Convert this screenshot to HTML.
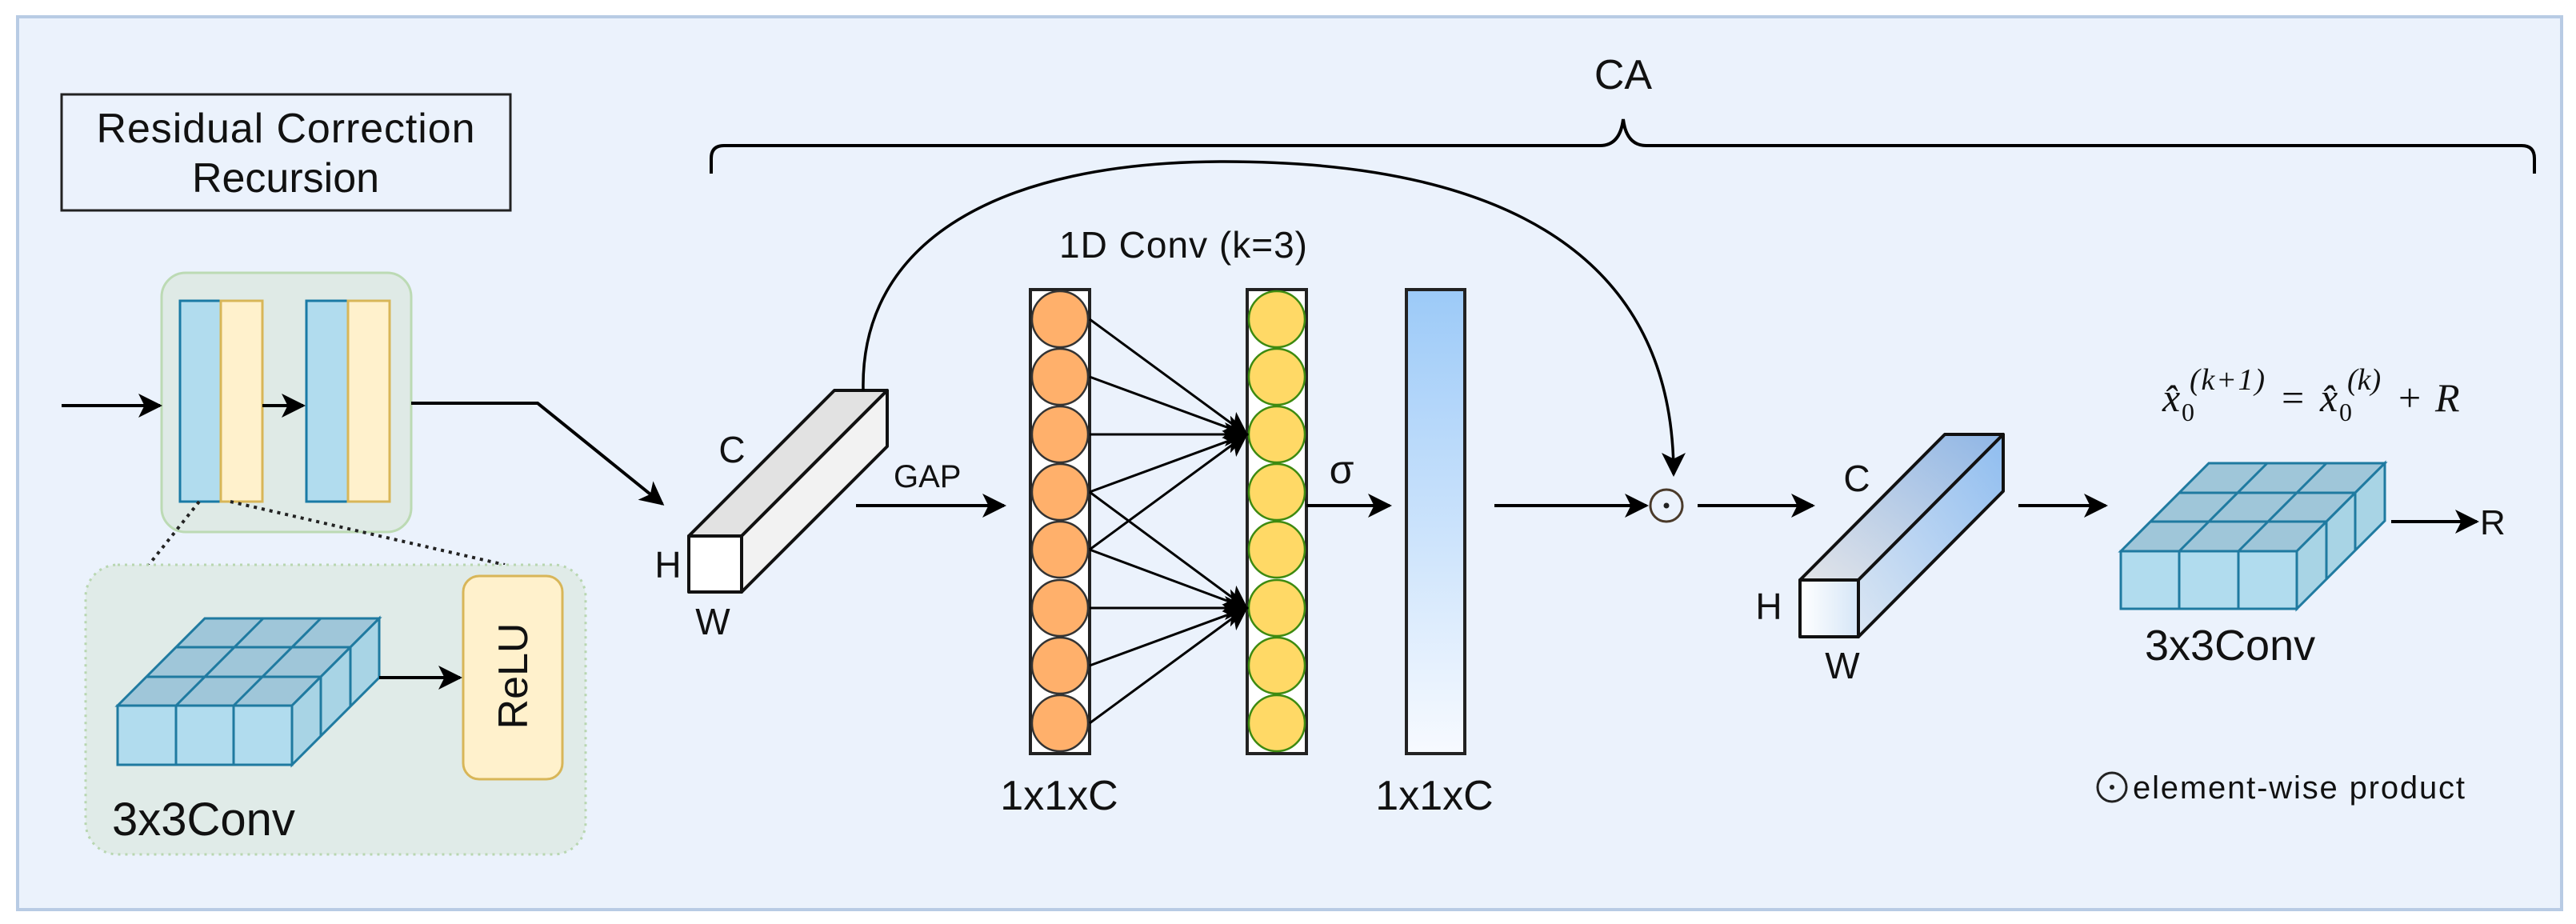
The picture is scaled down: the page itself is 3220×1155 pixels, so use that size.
<!DOCTYPE html>
<html><head><meta charset="utf-8"><style>
html,body{margin:0;padding:0;background:#fff;}
svg{display:block;}
text{font-family:"Liberation Sans",sans-serif;fill:#111;}
.s{font-family:"Liberation Serif",serif;}
</style></head><body>
<svg width="3220" height="1155" viewBox="0 0 3220 1155" xmlns="http://www.w3.org/2000/svg">
<defs>
<marker id="ar2" viewBox="0 0 20 20" refX="18" refY="10" markerWidth="30" markerHeight="30" markerUnits="userSpaceOnUse" orient="auto">
<path d="M0,0 L20,10 L0,20 L5,10 Z" fill="#000"/></marker>
<linearGradient id="blueBar" x1="0" y1="0" x2="0" y2="1"><stop offset="0" stop-color="#9ccaf8"/><stop offset="1" stop-color="#f7faff"/></linearGradient>
<linearGradient id="c2top" x1="0" y1="1" x2="1" y2="0"><stop offset="0" stop-color="#e2e4e8"/><stop offset="1" stop-color="#8fb6e6"/></linearGradient>
<linearGradient id="c2side" x1="0" y1="1" x2="1" y2="0"><stop offset="0" stop-color="#dbe6f3"/><stop offset="1" stop-color="#8fbdf0"/></linearGradient>
<linearGradient id="c2front" x1="0" y1="0" x2="1" y2="0"><stop offset="0" stop-color="#ffffff"/><stop offset="1" stop-color="#d6e6f7"/></linearGradient>
</defs>
<rect x="22" y="21" width="3180" height="1116" fill="#ebf2fc" stroke="#b8cbe4" stroke-width="4"/>

<!-- title -->
<rect x="77" y="118" width="561" height="145" fill="none" stroke="#222" stroke-width="3"/>
<text x="357" y="178" font-size="52" text-anchor="middle" textLength="473">Residual Correction</text>
<text x="357" y="240" font-size="52" text-anchor="middle">Recursion</text>

<!-- CA brace -->
<text x="2029" y="111" font-size="52" text-anchor="middle">CA</text>
<path d="M889,217 L889,198 Q889,182 905,182 L2000,182 Q2025,182 2029,149 Q2033,182 2058,182 L3152,182 Q3168,182 3168,198 L3168,217" fill="none" stroke="#000" stroke-width="4"/>

<!-- green block -->
<rect x="202" y="341" width="312" height="324" rx="30" fill="#dfeae6" stroke="#bcdab4" stroke-width="3"/>
<rect x="225" y="376" width="51" height="251" fill="#b1dcee" stroke="#1a7aa5" stroke-width="3"/>
<rect x="276" y="376" width="52" height="251" fill="#fff1cc" stroke="#d8b658" stroke-width="3"/>
<rect x="383" y="376" width="52" height="251" fill="#b1dcee" stroke="#1a7aa5" stroke-width="3"/>
<rect x="435" y="376" width="52" height="251" fill="#fff1cc" stroke="#d8b658" stroke-width="3"/>
<line x1="77" y1="507" x2="200" y2="507" stroke="#000" stroke-width="4" marker-end="url(#ar2)"/>
<line x1="328" y1="507" x2="379" y2="507" stroke="#000" stroke-width="4" marker-end="url(#ar2)"/>
<polyline points="514,504 672,504 828,630" fill="none" stroke="#000" stroke-width="4" marker-end="url(#ar2)"/>
<line x1="249" y1="627" x2="186" y2="706" stroke="#222" stroke-width="4" stroke-dasharray="4,6"/>
<line x1="288" y1="627" x2="631" y2="706" stroke="#222" stroke-width="4" stroke-dasharray="4,6"/>

<!-- dotted box -->
<rect x="107" y="706" width="625" height="362" rx="40" fill="#e0ebe8" stroke="#b8d6b0" stroke-width="3" stroke-dasharray="3,6"/>
<g stroke="#1f7aa0" stroke-width="3">
<polygon points="147,882 256,773 474,773 365,882" fill="#9fc6d9"/>
<polygon points="365,882 474,773 474,847 365,956" fill="#a8d4e5"/>
<rect x="147" y="882" width="218" height="74" fill="#b1dcee"/>
<line x1="220" y1="882" x2="220" y2="956"/><line x1="292" y1="882" x2="292" y2="956"/>
<line x1="220" y1="882" x2="329" y2="773"/><line x1="292" y1="882" x2="401" y2="773"/>
<line x1="183" y1="846" x2="401" y2="846"/><line x1="220" y1="809" x2="438" y2="809"/>
<line x1="401" y1="846" x2="401" y2="920"/><line x1="438" y1="809" x2="438" y2="883"/>
</g>
<line x1="474" y1="847" x2="575" y2="847" stroke="#000" stroke-width="4" marker-end="url(#ar2)"/>
<rect x="579" y="720" width="124" height="254" rx="20" fill="#fff1cc" stroke="#d8b658" stroke-width="3"/>
<text transform="translate(659,845) rotate(-90)" font-size="52" text-anchor="middle">ReLU</text>
<text x="140" y="1044" font-size="58">3x3Conv</text>

<!-- cuboid 1 -->
<g stroke="#111" stroke-width="4" stroke-linejoin="round">
<polygon points="861,670 1043,488 1109,488 927,670" fill="#e2e2e2"/>
<polygon points="927,670 1109,488 1109,558 927,740" fill="#f2f2f2"/>
<rect x="861" y="670" width="66" height="70" fill="#fff"/>
</g>
<text x="915" y="578" font-size="46" text-anchor="middle">C</text>
<text x="835" y="722" font-size="46" text-anchor="middle">H</text>
<text x="891" y="793" font-size="46" text-anchor="middle">W</text>

<!-- skip curve -->
<path d="M1079,488 C1075,300 1250,202 1530,202 C1850,202 2092,300 2092,593" fill="none" stroke="#000" stroke-width="3.5" marker-end="url(#ar2)"/>

<!-- GAP -->
<line x1="1070" y1="632" x2="1255" y2="632" stroke="#000" stroke-width="4" marker-end="url(#ar2)"/>
<text x="1117" y="609" font-size="40">GAP</text>
<text x="1479" y="322" font-size="46" text-anchor="middle" textLength="310">1D Conv (k=3)</text>

<!-- columns -->
<rect x="1288" y="362" width="74" height="580" fill="#fff" stroke="#222" stroke-width="4"/>
<rect x="1559" y="362" width="74" height="580" fill="#fff" stroke="#222" stroke-width="4"/>
<g stroke="#333" stroke-width="2.5" fill="#ffb06b">
<circle cx="1325" cy="399" r="35"/><circle cx="1325" cy="471" r="35"/><circle cx="1325" cy="543" r="35"/><circle cx="1325" cy="615" r="35"/>
<circle cx="1325" cy="687" r="35"/><circle cx="1325" cy="760" r="35"/><circle cx="1325" cy="832" r="35"/><circle cx="1325" cy="904" r="35"/>
</g>
<g stroke="#3d8a10" stroke-width="2.5" fill="#ffd966">
<circle cx="1596" cy="399" r="35"/><circle cx="1596" cy="471" r="35"/><circle cx="1596" cy="543" r="35"/><circle cx="1596" cy="615" r="35"/>
<circle cx="1596" cy="687" r="35"/><circle cx="1596" cy="760" r="35"/><circle cx="1596" cy="832" r="35"/><circle cx="1596" cy="904" r="35"/>
</g>
<g stroke="#000" stroke-width="3" marker-end="url(#ar2)">
<line x1="1362" y1="399" x2="1558" y2="543"/><line x1="1362" y1="471" x2="1558" y2="543"/><line x1="1362" y1="543" x2="1558" y2="543"/>
<line x1="1362" y1="615" x2="1558" y2="543"/><line x1="1362" y1="687" x2="1558" y2="543"/>
<line x1="1362" y1="615" x2="1558" y2="760"/><line x1="1362" y1="687" x2="1558" y2="760"/><line x1="1362" y1="760" x2="1558" y2="760"/>
<line x1="1362" y1="832" x2="1558" y2="760"/><line x1="1362" y1="904" x2="1558" y2="760"/>
</g>
<line x1="1633" y1="632" x2="1737" y2="632" stroke="#000" stroke-width="4" marker-end="url(#ar2)"/>
<text x="1677" y="604" font-size="50" text-anchor="middle">σ</text>
<rect x="1758" y="362" width="73" height="580" fill="url(#blueBar)" stroke="#222" stroke-width="4"/>
<text x="1324" y="1012" font-size="52" text-anchor="middle">1x1xC</text>
<text x="1793" y="1012" font-size="52" text-anchor="middle">1x1xC</text>

<!-- product -->
<line x1="1868" y1="632" x2="2058" y2="632" stroke="#000" stroke-width="4" marker-end="url(#ar2)"/>
<circle cx="2083" cy="632" r="20" fill="none" stroke="#4a3a2a" stroke-width="3"/>
<circle cx="2083" cy="632" r="3.5" fill="#222"/>
<line x1="2122" y1="632" x2="2266" y2="632" stroke="#000" stroke-width="4" marker-end="url(#ar2)"/>

<!-- cuboid 2 -->
<g stroke="#111" stroke-width="4" stroke-linejoin="round">
<polygon points="2250,725 2431,543 2504,543 2323,725" fill="url(#c2top)"/>
<polygon points="2323,725 2504,543 2504,614 2323,796" fill="url(#c2side)"/>
<rect x="2250" y="725" width="73" height="71" fill="url(#c2front)"/>
</g>
<text x="2321" y="614" font-size="46" text-anchor="middle">C</text>
<text x="2211" y="774" font-size="46" text-anchor="middle">H</text>
<text x="2303" y="848" font-size="46" text-anchor="middle">W</text>
<line x1="2523" y1="632" x2="2632" y2="632" stroke="#000" stroke-width="4" marker-end="url(#ar2)"/>

<!-- cube 2 -->
<g stroke="#1f7aa0" stroke-width="3">
<polygon points="2651,689 2761,579 2981,579 2871,689" fill="#9fc6d9"/>
<polygon points="2871,689 2981,579 2981,651 2871,761" fill="#a8d4e5"/>
<rect x="2651" y="689" width="220" height="72" fill="#b1dcee"/>
<line x1="2724" y1="689" x2="2724" y2="761"/><line x1="2798" y1="689" x2="2798" y2="761"/>
<line x1="2724" y1="689" x2="2834" y2="579"/><line x1="2798" y1="689" x2="2908" y2="579"/>
<line x1="2688" y1="652" x2="2908" y2="652"/><line x1="2724" y1="616" x2="2944" y2="616"/>
<line x1="2908" y1="652" x2="2908" y2="724"/><line x1="2944" y1="616" x2="2944" y2="688"/>
</g>
<line x1="2989" y1="652" x2="3096" y2="652" stroke="#000" stroke-width="4" marker-end="url(#ar2)"/>
<text x="3100" y="668" font-size="44">R</text>
<text x="2681" y="825" font-size="54">3x3Conv</text>

<!-- formula -->
<text class="s" x="2703" y="514" font-size="50" font-style="italic">x̂</text>
<text class="s" x="2727" y="526" font-size="32">0</text>
<text class="s" x="2737" y="487" font-size="38" font-style="italic" textLength="94">(k+1)</text>
<text class="s" x="2852" y="514" font-size="50">=</text>
<text class="s" x="2900" y="514" font-size="50" font-style="italic">x̂</text>
<text class="s" x="2924" y="526" font-size="32">0</text>
<text class="s" x="2934" y="487" font-size="38" font-style="italic">(k)</text>
<text class="s" x="2998" y="514" font-size="50">+</text>
<text class="s" x="3044" y="514" font-size="50" font-style="italic">R</text>

<!-- legend -->
<circle cx="2640" cy="984" r="18" fill="none" stroke="#222" stroke-width="3"/>
<circle cx="2640" cy="984" r="3" fill="#222"/>
<text x="2666" y="998" font-size="40" textLength="415">element-wise product</text>
</svg>
</body></html>
